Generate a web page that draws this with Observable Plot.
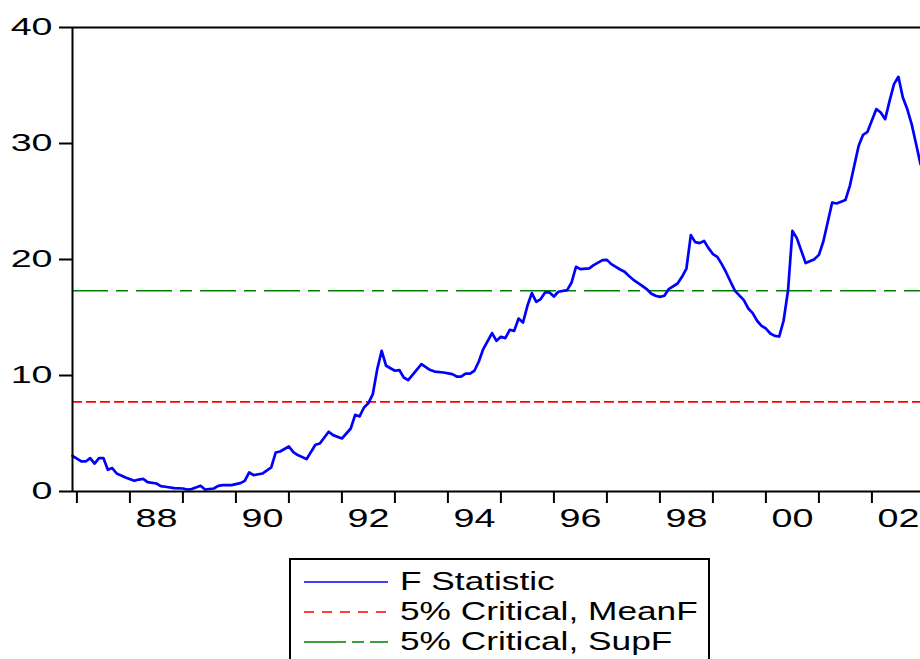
<!DOCTYPE html>
<html>
<head>
<meta charset="utf-8">
<script src="https://cdn.jsdelivr.net/npm/d3@7"></script>
<script src="https://cdn.jsdelivr.net/npm/@observablehq/plot@0.6"></script>
<style>
  html, body { margin: 0; padding: 0; background: #fff; overflow: hidden; }
  body { width: 920px; height: 659px; position: relative; font-family: "Liberation Sans", Arial, sans-serif; }
  #chart { position: absolute; left: 0; top: 0; }
  #legend { position: absolute; left: 289px; top: 558px; width: 421px; height: 120px; border: 2px solid #000; box-sizing: border-box; background: #fff; }
  .row { position: absolute; left: 0; height: 30px; width: 100%; }
  .row svg { position: absolute; left: 13px; top: 0; }
  .row span { position: absolute; left: 109px; top: 0; font-size: 25px; line-height: 30px; white-space: nowrap; transform: scaleX(1.41); transform-origin: left center; color: #000; }
</style>
</head>
<body>
<div id="chart"></div>
<div id="legend"></div>
<script>
// ---- data ----
const dates = [
  "1986-12","1987-02","1987-03","1987-04","1987-05","1987-06","1987-07","1987-08","1987-09","1987-10","1987-12",
  "1988-02","1988-03","1988-04","1988-05","1988-07","1988-08","1988-09","1988-11",
  "1989-01","1989-02","1989-03","1989-05","1989-06","1989-08","1989-09","1989-10","1989-12",
  "1990-02","1990-03","1990-04","1990-05","1990-07","1990-09","1990-10","1990-11",
  "1991-01","1991-02","1991-03","1991-05","1991-07","1991-08","1991-10","1991-11",
  "1992-01","1992-03","1992-04","1992-05","1992-06","1992-07","1992-08","1992-09","1992-10","1992-11",
  "1993-01","1993-02","1993-03","1993-04","1993-05","1993-07","1993-09","1993-10","1993-12",
  "1994-02","1994-03","1994-04","1994-05","1994-06","1994-07","1994-08","1994-09","1994-11","1994-12",
  "1995-01","1995-02","1995-03","1995-04","1995-05","1995-06","1995-07","1995-08","1995-09","1995-10","1995-11","1995-12",
  "1996-01","1996-02","1996-04","1996-05","1996-06","1996-07","1996-09","1996-10","1996-12",
  "1997-01","1997-02","1997-04","1997-05","1997-06","1997-07","1997-09","1997-10","1997-11","1997-12",
  "1998-01","1998-02","1998-03","1998-05","1998-06","1998-07","1998-08","1998-09","1998-10","1998-11","1998-12",
  "1999-01","1999-02","1999-03","1999-04","1999-05","1999-06","1999-08","1999-09","1999-10","1999-11","1999-12",
  "2000-01","2000-02","2000-03","2000-04","2000-05","2000-06","2000-07","2000-08","2000-10","2000-12",
  "2001-01","2001-02","2001-04","2001-05","2001-07","2001-08","2001-09","2001-10","2001-11","2001-12",
  "2002-02","2002-03","2002-04","2002-05","2002-06","2002-07","2002-08","2002-09","2002-10","2002-11","2002-12"
];
const fstat = [
  3.08,2.59,2.59,2.88,2.41,2.88,2.88,1.87,2.02,1.55,1.21,
  0.92,1.03,1.09,0.81,0.69,0.47,0.41,0.29,
  0.26,0.17,0.21,0.49,0.17,0.26,0.49,0.55,0.55,
  0.72,0.92,1.64,1.41,1.55,2.07,3.36,3.45,
  3.88,3.39,3.14,2.79,4.03,4.14,5.15,4.86,
  4.57,5.43,6.61,6.47,7.24,7.62,8.40,10.55,12.13,10.84,
  10.41,10.47,9.83,9.60,10.06,10.98,10.47,10.34,10.26,
  10.12,9.91,9.91,10.17,10.17,10.41,11.21,12.28,13.66,12.99,
  13.34,13.22,13.94,13.85,14.91,14.57,16.01,17.10,16.35,16.59,17.16,17.16,
  16.81,17.22,17.36,18.02,19.37,19.17,19.24,19.52,19.95,
  19.97,19.60,19.14,18.94,18.57,18.25,17.73,17.45,17.07,16.87,
  16.78,16.87,17.45,17.93,18.51,19.22,22.10,21.50,21.41,21.61,20.98,
  20.47,20.23,19.60,18.88,18.08,17.30,16.50,15.78,15.38,14.72,14.28,
  14.05,13.62,13.42,13.36,14.72,17.30,22.47,21.84,19.69,20.03,
  20.40,21.55,24.91,24.83,25.12,26.35,28.08,29.80,30.75,31.01,
  32.97,32.67,32.10,33.68,35.12,35.75,33.97,32.97,31.67,29.95,28.22
];
const meanF = 7.73;   // 5% Critical, MeanF
const supF = 17.30;   // 5% Critical, SupF
const yTicks = [0, 10, 20, 30, 40];
const tickYears = [1987,1988,1989,1990,1991,1992,1993,1994,1995,1996,1997,1998,1999,2000,2001,2002];
const labelYears = [1988,1990,1992,1994,1996,1998,2000,2002];
const seriesNames = ["F Statistic", "5% Critical, MeanF", "5% Critical, SupF"];
const seriesColors = ["#0000FF", "#FF0000", "#008000"];
const seriesDash = [null, "10,4", "36,8,12,8"];

// ---- build ----
const parse = s => { const [y, m] = s.split("-").map(Number); return y + (m - 1) / 12; };
const data = dates.map((d, i) => ({t: parse(d), f: fstat[i]}));
const x0 = parse("1986-12"), x1 = parse("2002-12");
const font = "'Liberation Sans', Arial, sans-serif";

const chart = Plot.plot({
  width: 920,
  height: 545,
  marginLeft: 72,
  marginRight: 0,
  marginTop: 27,
  marginBottom: 54,
  style: {fontFamily: font, background: "#fff", color: "#000"},
  x: {domain: [x0, x1]},
  y: {domain: [0, 40]},
  marks: [
    Plot.ruleY([meanF], {stroke: seriesColors[1], strokeWidth: 1.6, strokeDasharray: seriesDash[1]}),
    Plot.ruleY([supF], {stroke: seriesColors[2], strokeWidth: 1.6, strokeDasharray: seriesDash[2]}),
    Plot.line(data, {x: "t", y: "f", stroke: seriesColors[0], strokeWidth: 2.7}),
    Plot.ruleY([40], {stroke: "#000", strokeWidth: 2}),
    Plot.ruleY([0], {stroke: "#000", strokeWidth: 2}),
    Plot.ruleX([x0], {stroke: "#000", strokeWidth: 2}),
    Plot.axisY({ticks: yTicks, tickSize: 13, tickPadding: 7, fontSize: 23.5, strokeWidth: 2, tickFormat: d => String(d), label: null}),
    Plot.axisX({ticks: tickYears, tickSize: 12, strokeWidth: 2, tickFormat: () => "", label: null}),
    Plot.axisX({ticks: labelYears.map(y => y + 0.5), tickSize: 0, tickPadding: 17, fontSize: 26, tickFormat: d => String(Math.floor(d) % 100).padStart(2, "0"), label: null})
  ]
});
document.getElementById("chart").appendChild(chart);

// widen axis labels horizontally (reference glyphs are wide) without moving them
function stretch(t, s) {
  const w = t.getComputedTextLength();
  if (w > 0) {
    t.setAttribute("textLength", (w * s).toFixed(2));
    t.setAttribute("lengthAdjust", "spacingAndGlyphs");
  }
}
chart.querySelectorAll("g[aria-label='y-axis tick label'] text").forEach(t => stretch(t, 1.6));
chart.querySelectorAll("g[aria-label='x-axis tick label'] text").forEach(t => stretch(t, 1.45));

// legend
const legend = document.getElementById("legend");
seriesNames.forEach((name, i) => {
  const row = document.createElement("div");
  row.className = "row";
  row.style.top = (6 + i * 30) + "px";
  const ns = "http://www.w3.org/2000/svg";
  const s = document.createElementNS(ns, "svg");
  s.setAttribute("width", 84); s.setAttribute("height", 30);
  const l = document.createElementNS(ns, "line");
  l.setAttribute("x1", 0); l.setAttribute("x2", 84);
  l.setAttribute("y1", 16); l.setAttribute("y2", 16);
  l.setAttribute("stroke", seriesColors[i]);
  l.setAttribute("stroke-width", 1.6);
  if (i === 1) l.setAttribute("stroke-dasharray", "10,8");
  if (i === 2) l.setAttribute("stroke-dasharray", "42,6,12,6");
  s.appendChild(l);
  row.appendChild(s);
  const sp = document.createElement("span");
  sp.textContent = name;
  row.appendChild(sp);
  legend.appendChild(row);
});
</script>
</body>
</html>
